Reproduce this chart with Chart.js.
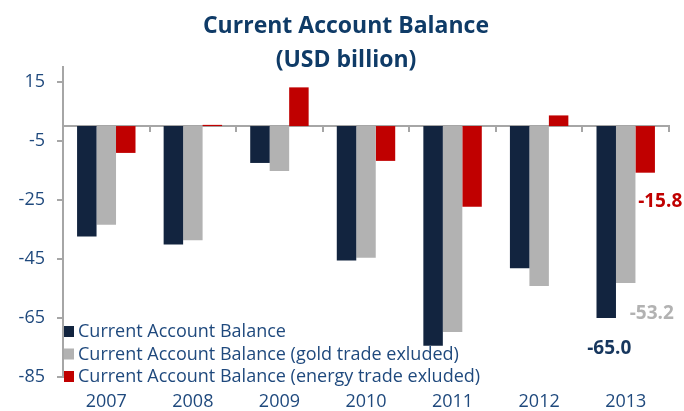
<!DOCTYPE html>
<html>
<head>
<meta charset="utf-8">
<script src="https://cdn.jsdelivr.net/npm/chart.js@4/dist/chart.umd.min.js"></script>
<style>
  html, body { margin: 0; padding: 0; background: #ffffff; }
  #wrap { position: relative; width: 684px; height: 411px; }
</style>
</head>
<body>
<div id="wrap"><canvas id="c"></canvas></div>
<script>
// ---- data ----
const categories = ['2007', '2008', '2009', '2010', '2011', '2012', '2013'];
const seriesNames = [
  'Current Account Balance',
  'Current Account Balance (gold trade exluded)',
  'Current Account Balance (energy trade exluded)'
];
const currentAccount = [-37.4, -40.1, -12.5, -45.5, -74.4, -48.2, -65.0];
const goldExcluded   = [-33.4, -38.7, -15.2, -44.6, -69.8, -54.2, -53.2];
const energyExcluded = [-9.1, 0.4, 13.1, -11.8, -27.3, 3.6, -15.8];
const yTickValues = [-85, -65, -45, -25, -5, 15];
const titleLines = ['Current Account Balance', '(USD billion)'];
const labelledLast = ['-65.0', '-53.2', '-15.8'];

// ---- styles ----
const colors = ['#12243f', '#b2b2b2', '#c00000'];
const labelColors = ['#17375e', '#b2b2b2', '#c00000'];
const textColor = '#1f497d';
const axisGray = '#a6a6a6';
const FONT = "'Open Sans', 'DejaVu Sans', sans-serif";

const titlePlugin = {
  id: 'titleText',
  afterDraw(chart) {
    const ctx = chart.ctx;
    ctx.save();
    ctx.fillStyle = '#0f3b67';
    ctx.font = "bold 23px " + FONT;
    ctx.textAlign = 'center';
    ctx.textBaseline = 'alphabetic';
    const cx = chart.width / 2 + 4;
    ctx.fillText(titleLines[0], cx, 33);
    ctx.fillText(titleLines[1], cx, 67);
    ctx.restore();
  }
};

const legendPlugin = {
  id: 'innerLegend',
  afterDatasetsDraw(chart) {
    const ctx = chart.ctx;
    const area = chart.chartArea;
    ctx.save();
    ctx.font = "18px " + FONT;
    ctx.textBaseline = 'middle';
    ctx.textAlign = 'left';
    chart.data.datasets.forEach((ds, i) => {
      const cy = area.bottom - 46 + i * 22.5;
      ctx.fillStyle = ds.backgroundColor;
      ctx.fillRect(area.left + 1, cy - 5, 10, 11);
      ctx.fillStyle = textColor;
      ctx.fillText(ds.label, area.left + 15, cy + 1);
    });
    ctx.restore();
  }
};

const valueLabelPlugin = {
  id: 'valueLabels',
  afterDatasetsDraw(chart) {
    const ctx = chart.ctx;
    const offsets = [[3, 31], [26, 30], [15, 29]];
    ctx.save();
    ctx.font = "bold 19px " + FONT;
    ctx.textAlign = 'center';
    ctx.textBaseline = 'middle';
    chart.data.datasets.forEach((ds, i) => {
      const meta = chart.getDatasetMeta(i);
      const bar = meta.data[meta.data.length - 1];
      ctx.fillStyle = labelColors[i];
      ctx.fillText(labelledLast[i], bar.x + offsets[i][0], bar.y + offsets[i][1]);
    });
    ctx.restore();
  }
};

new Chart(document.getElementById('c'), {
  type: 'bar',
  data: {
    labels: categories,
    datasets: [
      { label: seriesNames[0], data: currentAccount, backgroundColor: colors[0] },
      { label: seriesNames[1], data: goldExcluded, backgroundColor: colors[1] },
      { label: seriesNames[2], data: energyExcluded, backgroundColor: colors[2] }
    ]
  },
  options: {
    responsive: true,
    maintainAspectRatio: false,
    animation: false,
    devicePixelRatio: 1,
    layout: { padding: { top: 67, right: 15, bottom: 0, left: 0 } },
    datasets: { bar: { barPercentage: 1, categoryPercentage: 0.675 } },
    plugins: {
      legend: { display: false },
      title: { display: false },
      tooltip: { enabled: false }
    },
    scales: {
      x: {
        type: 'category',
        offset: true,
        grid: { display: false, drawTicks: false, offset: true },
        border: { display: false },
        ticks: { color: textColor, font: { family: FONT, size: 18 }, padding: 14, maxRotation: 0 },
        afterFit(s) { s.height = 34; }
      },
      x2: {
        type: 'category',
        position: { y: 0 },
        offset: true,
        grid: { offset: true, drawOnChartArea: false, drawTicks: true, tickLength: 5, color: axisGray, lineWidth: 2 },
        border: { display: true, color: axisGray, width: 2 },
        ticks: { display: false }
      },
      y: {
        min: -85,
        max: 20,
        afterBuildTicks(s) { s.ticks = yTickValues.map(v => ({ value: v })); },
        grid: { drawOnChartArea: false, tickLength: 6, color: axisGray, lineWidth: 2 },
        border: { display: true, color: axisGray, width: 2 },
        ticks: { color: textColor, font: { family: FONT, size: 18 }, padding: 12 },
        afterFit(s) { s.width = 63; }
      }
    }
  },
  plugins: [titlePlugin, legendPlugin, valueLabelPlugin]
});
</script>
</body>
</html>
